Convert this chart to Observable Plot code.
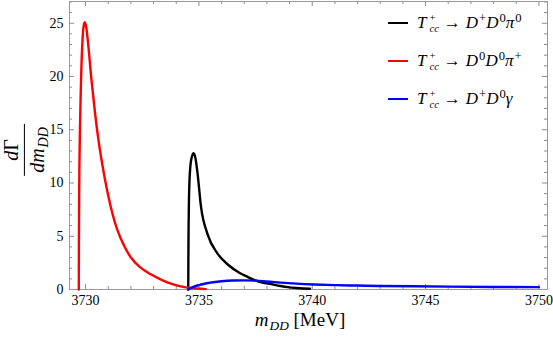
<!DOCTYPE html>
<html>
<head>
<meta charset="utf-8">
<script src="https://cdn.jsdelivr.net/npm/d3@7"></script>
<script src="https://cdn.jsdelivr.net/npm/@observablehq/plot@0.6"></script>
<style>
  html, body { margin: 0; padding: 0; background: #fff; }
  #wrap { position: relative; width: 553px; height: 342px; font-family: "Liberation Serif", "DejaVu Serif", serif; color: #000; }
  #wrap svg { position: absolute; left: 0; top: 0; }
  #wrap svg text { font-family: "Liberation Serif", serif !important; }
  .math { font-family: "Liberation Serif", serif; white-space: nowrap; }
  .math i { font-style: italic; }
  .ss { display: inline-block; vertical-align: middle; line-height: 1; font-size: 0.62em; margin-left: 3px; margin-right: 2px; position: relative; top: -0.05em; }
  .ss span.l { display: block; }
  .sup { vertical-align: 0.5em; font-size: 0.74em; margin-left: 1px; }
  .sub { vertical-align: -0.3em; font-size: 0.7em; margin-left: 1px; }
  .arr { margin: 0 5px 0 3px; }
  .lrow { position: absolute; display: flex; align-items: center; font-size: 17px; }
  .lrow .sw { width: 20px; height: 2px; margin-right: 9px; }
  #ylab { position: absolute; left: 26px; top: 150px; transform: translate(-50%, -50%) rotate(-90deg); font-size: 20px; line-height: 1; display: flex; flex-direction: column; align-items: center; }
  #ylab .num { padding: 0 3px 3px 3px; }
  #ylab .den { border-top: 1px solid #000; padding: 2px 3px 0 3px; }
  #xlab { position: absolute; left: 300px; top: 321px; transform: translate(-50%, -50%); font-size: 19px; line-height: 1; }
</style>
</head>
<body>
<div id="wrap"></div>
<script>
// ---- Data ----
const seriesNames = ["D+D0pi0", "D0D0pi+", "D+D0gamma"];
const seriesColors = ["#000000", "#ff0000", "#0000ff"];

// T_cc+ -> D+ D0 pi0 (black)
const blackX = [3734.53, 3734.535, 3734.545, 3734.56, 3734.58, 3734.62, 3734.68, 3734.77, 3734.85, 3734.94, 3735.09, 3735.38, 3735.83, 3736.3, 3736.8, 3737.15, 3737.45, 3737.8, 3738.19, 3738.6, 3738.92, 3739.3, 3739.6, 3739.9];
const blackY = [0, 3.0, 6.0, 8.3, 10.0, 11.5, 12.4, 12.8, 12.3, 10.9, 7.8, 5.2, 3.35, 2.3, 1.55, 1.18, 0.88, 0.66, 0.5, 0.33, 0.22, 0.14, 0.1, 0.07];

// T_cc+ -> D0 D0 pi+ (red)
const redX = [3729.70, 3729.705, 3729.715, 3729.73, 3729.75, 3729.78, 3729.81, 3729.85, 3729.90, 3729.96, 3730.03, 3730.12, 3730.25, 3730.40, 3730.55, 3730.70, 3730.85, 3731.0, 3731.2, 3731.4, 3731.7, 3732.0, 3732.4, 3732.9, 3733.4, 3733.8, 3734.2, 3734.5, 3734.9, 3735.3];
const redY = [0, 4.0, 8.5, 12.0, 15.0, 18.0, 20.5, 22.8, 24.5, 25.1, 24.6, 22.9, 19.9, 16.9, 14.3, 12.2, 10.4, 8.8, 7.0, 5.6, 4.1, 3.0, 2.1, 1.4, 0.85, 0.52, 0.3, 0.18, 0.09, 0.04];

// T_cc+ -> D+ D0 gamma (blue)
const blueX = [3734.53, 3734.7, 3735.0, 3735.5, 3736.0, 3736.5, 3737.0, 3737.5, 3738.0, 3738.6, 3739.3, 3740.1, 3741.0, 3742.0, 3743.0, 3744.5, 3746.0, 3748.0, 3750.0];
const blueY = [0, 0.2, 0.42, 0.64, 0.77, 0.84, 0.86, 0.83, 0.75, 0.65, 0.55, 0.47, 0.41, 0.37, 0.33, 0.3, 0.27, 0.24, 0.22];

// ---- Axes ----
const xDomain = [3729.29, 3750.38];
const yDomain = [0, 27.04];
const xMajor = [3730, 3735, 3740, 3745, 3750];
const xMinor = d3.range(3730, 3751, 1).filter(v => v % 5 !== 0);
const yMajor = [0, 5, 10, 15, 20, 25];
const yMinor = d3.range(1, 28, 1).filter(v => v % 5 !== 0);

const W = 553, H = 342;
const mL = 69, mR = 6, mT = 1, mB = 53;
const fw = W - mL - mR, fh = H - mT - mB;
const tickColor = "#8c8c8c";

const rows = (xs, ys, s) => xs.map((x, i) => ({x, y: ys[i], s}));
const data = [
  ...rows(blackX, blackY, seriesNames[0]),
  ...rows(redX, redY, seriesNames[1]),
  ...rows(blueX, blueY, seriesNames[2])
];

const plot = Plot.plot({
  width: W, height: H,
  marginLeft: mL, marginRight: mR, marginTop: mT, marginBottom: mB,
  style: {fontFamily: "'Liberation Serif', serif", fontSize: "14px", background: "white"},
  x: {domain: xDomain},
  y: {domain: yDomain},
  color: {domain: seriesNames, range: seriesColors},
  marks: [
    // x ticks bottom/top (inward)
    Plot.ruleX(xMajor, {stroke: tickColor, insetTop: fh - 5}),
    Plot.ruleX(xMinor, {stroke: tickColor, insetTop: fh - 3}),
    Plot.ruleX(xMajor, {stroke: tickColor, insetBottom: fh - 5}),
    Plot.ruleX(xMinor, {stroke: tickColor, insetBottom: fh - 3}),
    // y ticks left/right (inward)
    Plot.ruleY(yMajor, {stroke: tickColor, insetRight: fw - 5}),
    Plot.ruleY(yMinor, {stroke: tickColor, insetRight: fw - 3}),
    Plot.ruleY(yMajor, {stroke: tickColor, insetLeft: fw - 5}),
    Plot.ruleY(yMinor, {stroke: tickColor, insetLeft: fw - 3}),
    Plot.axisX({ticks: xMajor, tickSize: 0, tickPadding: 6, tickFormat: d => String(d), label: null, fontSize: 14}),
    Plot.axisY({ticks: yMajor, tickSize: 0, tickPadding: 6, tickFormat: d => String(d), label: null, fontSize: 14}),
    Plot.frame({stroke: "#999"}),
    Plot.line(data.filter(d => d.s === seriesNames[0]), {x: "x", y: "y", stroke: "s", strokeWidth: 2.4, curve: "monotone-x"}),
    Plot.line(data.filter(d => d.s === seriesNames[1]), {x: "x", y: "y", stroke: "s", strokeWidth: 2.4, curve: "monotone-x"}),
    Plot.line(data.filter(d => d.s === seriesNames[2]), {x: "x", y: "y", stroke: "s", strokeWidth: 2.4, curve: "monotone-x"})
  ]
});

const wrap = document.getElementById("wrap");
wrap.appendChild(plot);

// ---- Legend (HTML, inside the plot area) ----
const T = '<i>T</i><span class="ss"><span class="l">+</span><span class="l"><i>cc</i></span></span>';
const A = '<span class="arr">→</span>';
const legendLabels = [
  T + A + '<i>D</i><span class="sup">+</span><i>D</i><span class="sup">0</span><i>π</i><span class="sup">0</span>',
  T + A + '<i>D</i><span class="sup">0</span><i>D</i><span class="sup">0</span><i>π</i><span class="sup">+</span>',
  T + A + '<i>D</i><span class="sup">+</span><i>D</i><span class="sup">0</span><i>γ</i>'
];
const legendTops = [23, 61, 99];
legendLabels.forEach((lab, i) => {
  const r = document.createElement("div");
  r.className = "lrow math";
  r.style.left = "388px";
  r.style.top = (legendTops[i] - 14) + "px";
  r.style.height = "28px";
  r.innerHTML = `<span class="sw" style="background:${seriesColors[i]}"></span><span>${lab}</span>`;
  wrap.appendChild(r);
});

// ---- Axis titles ----
const yl = document.createElement("div");
yl.id = "ylab";
yl.className = "math";
yl.innerHTML = '<span class="num"><i>d</i>Γ</span><span class="den"><i>dm</i><span class="sub"><i>DD</i></span></span>';
wrap.appendChild(yl);

const xl = document.createElement("div");
xl.id = "xlab";
xl.className = "math";
xl.innerHTML = '<i>m</i><span class="sub"><i>DD</i></span> [MeV]';
wrap.appendChild(xl);
</script>
</body>
</html>
